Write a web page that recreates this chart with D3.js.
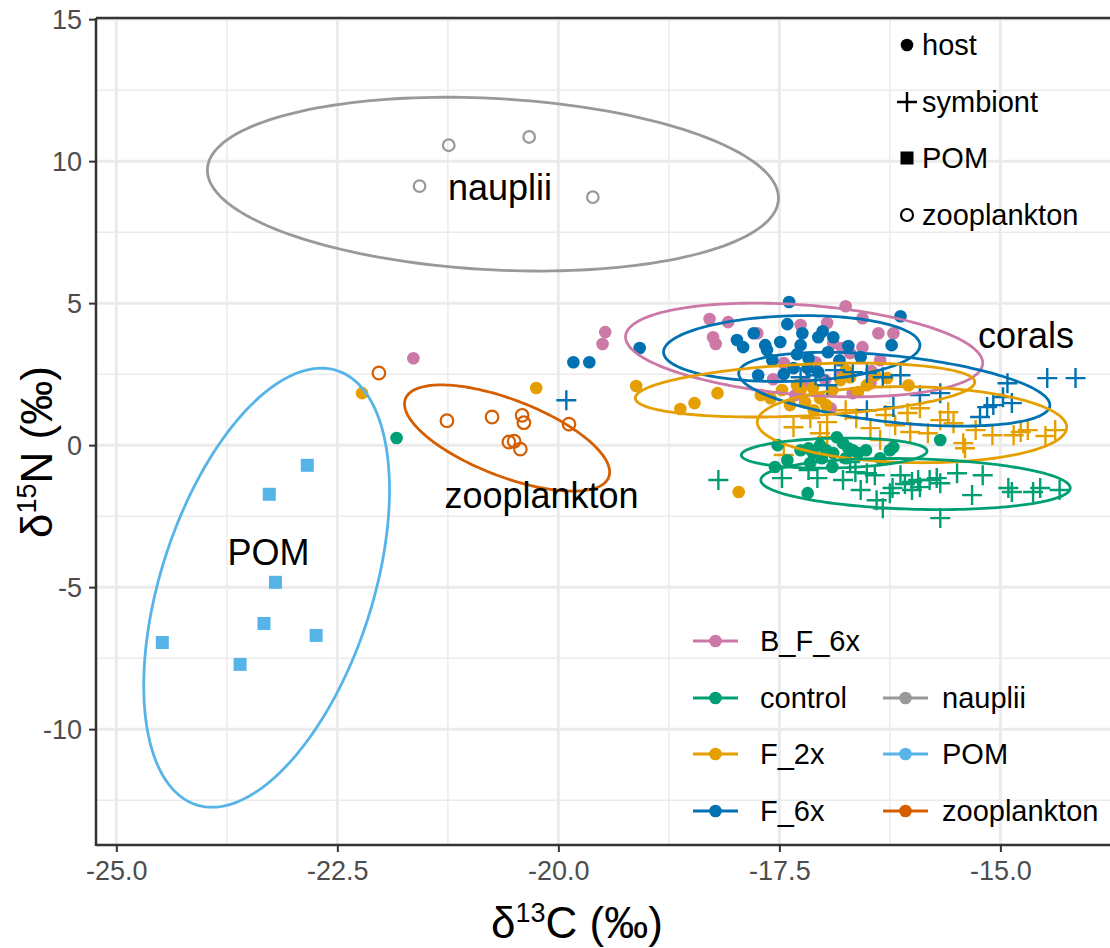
<!DOCTYPE html>
<html>
<head>
<meta charset="utf-8">
<script src="https://cdn.jsdelivr.net/npm/d3@7/dist/d3.min.js"></script>
<style>
  body { margin: 0; background: #fff; }
</style>
</head>
<body>
<div id="chart"></div>
<script>
// ---- data (delta13C, delta15N) ----
const groupNames  = ["B_F_6x", "control", "F_2x", "F_6x", "nauplii", "POM", "zooplankton"];
const groupColors = ["#CC79A7", "#009E73", "#E69F00", "#0072B2", "#999999", "#56B4E9", "#D55E00"];

const bf6xHost = [[-21.64,3.06],[-19.50,3.56],[-19.47,3.98],[-18.29,4.44],[-18.08,4.33],[-18.25,3.80],[-18.22,3.56],
  [-17.75,3.94],[-17.26,4.23],[-16.96,4.30],[-16.75,4.89],[-16.56,4.47],[-16.38,3.94],[-16.21,3.94],[-16.89,3.59],
  [-16.79,3.42],[-16.70,3.24],[-16.56,3.45],[-16.36,2.99],[-16.46,2.61],[-17.09,2.92],[-17.45,2.89],[-17.57,2.32],
  [-17.21,2.18],[-16.92,1.30],[-16.67,1.83],[-16.81,2.46],[-16.47,2.18],[-16.98,2.29],[-17.32,1.76]];

const controlHost = [[-21.83,0.25],[-17.52,0.00],[-17.41,-0.53],[-17.55,-0.77],[-17.26,-0.18],[-17.17,-0.11],[-17.12,-0.28],
  [-17.15,-0.63],[-17.04,0.00],[-16.97,-0.18],[-16.89,-0.28],[-16.85,0.28],[-16.90,-0.77],[-17.18,-1.69],[-16.78,0.07],
  [-16.72,-0.11],[-16.67,-0.18],[-16.61,-0.28],[-16.52,-0.18],[-16.75,-0.46],[-16.36,-0.46],[-16.25,-0.18],[-16.21,-0.07],
  [-15.68,0.18],[-17.02,-0.46]];

const f2xHost = [[-22.22,1.83],[-20.25,2.01],[-19.12,2.08],[-18.62,1.27],[-18.46,1.48],[-18.20,1.83],[-17.96,-1.65],
  [-17.60,1.65],[-17.47,1.94],[-17.38,1.41],[-17.26,1.94],[-17.21,1.51],[-17.12,2.01],[-17.04,1.65],[-16.90,1.94],
  [-16.81,2.29],[-16.75,2.64],[-16.70,2.39],[-16.61,1.87],[-16.51,2.11],[-16.42,2.46],[-16.28,2.36],[-16.04,2.11],
  [-16.97,1.41],[-17.11,1.23],[-17.30,2.11],[-17.71,1.76]];

const f6xHost = [[-19.83,2.92],[-19.65,2.92],[-19.08,3.42],[-17.98,3.70],[-17.91,3.45],[-17.79,3.94],[-17.66,3.52],
  [-17.64,3.35],[-17.49,3.63],[-17.41,4.26],[-17.39,5.04],[-17.26,3.52],[-17.24,3.94],[-17.17,3.06],[-17.06,3.80],
  [-17.01,4.01],[-16.89,3.80],[-16.95,3.27],[-16.72,3.49],[-16.58,3.10],[-16.23,3.52],[-16.13,4.54],[-17.74,2.46],
  [-17.45,2.50],[-17.34,2.71],[-17.18,2.71],[-17.06,2.57],[-16.82,2.99],[-17.58,2.99],[-17.30,3.20]];

const controlSym = [[-18.19,-1.23],[-17.47,-1.16],[-17.07,-1.16],[-16.78,-1.23],[-16.64,-0.95],[-16.51,-0.99],[-16.42,-1.06],
  [-16.40,-1.94],[-16.33,-2.22],[-16.25,-1.69],[-16.22,-1.51],[-16.13,-1.06],[-16.08,-1.37],[-16.00,-1.30],[-16.00,-1.58],
  [-15.93,-1.23],[-15.91,-1.48],[-15.80,-1.23],[-15.72,-1.16],[-15.68,-1.34],[-15.68,-2.57],[-15.49,-0.99],[-15.32,-1.76],
  [-15.20,-1.06],[-14.91,-1.51],[-14.87,-1.65],[-14.63,-1.65],[-14.55,-1.51],[-14.33,-1.58],[-16.58,-1.58],[-16.70,-0.60],
  [-17.17,-0.88]];

const f2xSym = [[-17.45,-0.35],[-17.34,0.63],[-17.15,0.95],[-17.04,0.42],[-16.96,0.81],[-16.96,0.28],[-16.75,1.23],
  [-16.63,0.95],[-16.47,0.60],[-16.30,1.06],[-16.05,1.13],[-16.02,0.46],[-15.91,1.30],[-15.82,0.42],[-15.68,0.88],
  [-15.59,1.16],[-15.53,0.77],[-15.42,0.07],[-15.40,-0.11],[-15.28,0.53],[-15.09,0.35],[-14.85,0.35],[-14.77,0.46],
  [-14.69,0.53],[-14.49,0.32],[-14.38,0.53],[-16.36,0.18],[-16.19,0.70]];

const f6xSym = [[-19.91,1.58],[-17.26,2.39],[-17.09,2.46],[-16.96,2.11],[-16.87,2.64],[-16.67,2.57],[-16.51,2.54],
  [-16.33,2.39],[-16.13,2.46],[-16.51,1.23],[-16.21,1.34],[-15.91,1.76],[-15.68,1.83],[-15.23,0.99],[-15.15,1.34],
  [-15.08,1.41],[-14.97,1.69],[-14.92,2.18],[-14.87,1.48],[-14.47,2.36],[-14.15,2.36]];

const naupliiPts = [[-21.57,9.12],[-21.24,10.56],[-20.33,10.85],[-19.61,8.73]];

const pomPts = [[-22.84,-0.71],[-23.27,-1.73],[-23.20,-4.83],[-23.33,-6.28],[-22.74,-6.70],[-24.48,-6.95],[-23.60,-7.72]];

const zooPts = [[-22.03,2.54],[-21.26,0.86],[-20.75,0.99],[-20.41,1.05],[-20.39,0.79],[-19.88,0.74],[-20.56,0.11],
  [-20.50,0.14],[-20.43,-0.14]];

// ellipses: centre, right-most point, and half of vertical extent (data units)
const ellGroup = ["nauplii", "POM", "zooplankton", "B_F_6x", "F_6x", "F_6x", "F_2x", "F_2x", "control", "control"];
const ellCx    = [-20.74, -23.30, -20.58, -17.22, -17.36, -16.20, -17.21, -16.00, -16.88, -15.96];
const ellCy    = [  9.19,  -5.02,   0.25,   3.35,   3.40,   1.97,   1.94,   0.72,  -0.28,  -1.37];
const ellRx    = [-17.51, -21.91, -19.42, -15.20, -15.91, -14.44, -15.29, -14.25, -15.83, -14.21];
const ellRy    = [  8.70,  -1.58,  -0.95,   2.89,   3.52,   1.41,   2.22,   0.63,  -0.21,  -1.51];
const ellHalfH = [  3.06,   7.73,   1.87,   1.65,   1.16,   1.30,   0.95,   1.34,   0.53,   0.90];

const textLabels = ["nauplii", "corals", "zooplankton", "POM"];
const textX = [-20.66, -14.71, -20.19, -23.28];
const textY = [9.08, 3.87, -1.76, -3.77];

const xMajor = [-25, -22.5, -20, -17.5, -15];
const xMinor = [-23.75, -21.25, -18.75, -16.25];
const yMajor = [-10, -5, 0, 5, 10, 15];
const yMinor = [-12.5, -7.5, -2.5, 2.5, 7.5, 12.5];

const shapeNames = ["host", "symbiont", "POM", "zooplankton"];

// ---- drawing ----
const width = 1110, height = 948;
const color = d3.scaleOrdinal().domain(groupNames).range(groupColors);

const svg = d3.select("#chart").append("svg")
    .attr("width", width)
    .attr("height", height)
    .style("font-family", "'Liberation Sans', Arial, Helvetica, sans-serif");

const x = d3.scaleLinear().domain([-25.23, -13.76]).range([96, 1110]);
const y = d3.scaleLinear().domain([-14.08, 15.04]).range([845, 18]);

svg.append("clipPath").attr("id", "panel")
  .append("rect").attr("x", 96).attr("y", 18).attr("width", 1014).attr("height", 827);

const grid = svg.append("g").attr("clip-path", "url(#panel)");
grid.selectAll(".xmin").data(xMinor).enter().append("line")
    .attr("x1", d => x(d)).attr("x2", d => x(d)).attr("y1", 18).attr("y2", 845)
    .attr("stroke", "#ebebeb").attr("stroke-width", 1.5);
grid.selectAll(".ymin").data(yMinor).enter().append("line")
    .attr("y1", d => y(d)).attr("y2", d => y(d)).attr("x1", 96).attr("x2", 1110)
    .attr("stroke", "#ebebeb").attr("stroke-width", 1.5);
grid.selectAll(".xmaj").data(xMajor).enter().append("line")
    .attr("x1", d => x(d)).attr("x2", d => x(d)).attr("y1", 18).attr("y2", 845)
    .attr("stroke", "#ebebeb").attr("stroke-width", 3);
grid.selectAll(".ymaj").data(yMajor).enter().append("line")
    .attr("y1", d => y(d)).attr("y2", d => y(d)).attr("x1", 96).attr("x2", 1110)
    .attr("stroke", "#ebebeb").attr("stroke-width", 3);

const plot = svg.append("g").attr("clip-path", "url(#panel)");

function drawDots(data, fill) {
  plot.selectAll(null).data(data).enter().append("circle")
      .attr("cx", d => x(d[0])).attr("cy", d => y(d[1])).attr("r", 6.3)
      .attr("fill", fill);
}
function drawPlus(data, stroke) {
  const s = 10;
  plot.selectAll(null).data(data).enter().append("path")
      .attr("d", d => `M${x(d[0]) - s},${y(d[1])}H${x(d[0]) + s}M${x(d[0])},${y(d[1]) - s}V${y(d[1]) + s}`)
      .attr("stroke", stroke).attr("stroke-width", 2.4).attr("fill", "none");
}
function drawOpen(data, stroke, r) {
  plot.selectAll(null).data(data).enter().append("circle")
      .attr("cx", d => x(d[0])).attr("cy", d => y(d[1])).attr("r", r)
      .attr("fill", "none").attr("stroke", stroke).attr("stroke-width", 2.2);
}
function drawSquares(data, fill) {
  const s = 13;
  plot.selectAll(null).data(data).enter().append("rect")
      .attr("x", d => x(d[0]) - s / 2).attr("y", d => y(d[1]) - s / 2)
      .attr("width", s).attr("height", s).attr("fill", fill);
}

drawDots(bf6xHost, color("B_F_6x"));
drawPlus(controlSym, color("control"));
drawPlus(f2xSym, color("F_2x"));
drawDots(controlHost, color("control"));
drawDots(f2xHost, color("F_2x"));
drawPlus(f6xSym, color("F_6x"));
drawDots(f6xHost, color("F_6x"));
drawOpen(naupliiPts, color("nauplii"), 5.8);
drawSquares(pomPts, color("POM"));
drawOpen(zooPts, color("zooplankton"), 6.3);

// ellipses
const ellLine = d3.line().x(p => x(p[0])).y(p => y(p[1])).curve(d3.curveLinearClosed);
ellGroup.forEach((g, i) => {
  const hx = ellRx[i] - ellCx[i];
  const hy = ellRy[i] - ellCy[i];
  const k = Math.sqrt(Math.max(ellHalfH[i] * ellHalfH[i] - hy * hy, 0));
  const pts = d3.range(0, 2 * Math.PI, Math.PI / 90).map(t =>
    [ellCx[i] + hx * Math.cos(t), ellCy[i] + hy * Math.cos(t) + k * Math.sin(t)]);
  plot.append("path").datum(pts)
      .attr("d", ellLine)
      .attr("fill", "none")
      .attr("stroke", color(g))
      .attr("stroke-width", 2.8);
});

// group labels
plot.selectAll(".lab").data(textLabels).enter().append("text")
    .attr("x", (d, i) => x(textX[i])).attr("y", (d, i) => y(textY[i]))
    .attr("text-anchor", "middle").attr("dominant-baseline", "central")
    .style("font-size", "36px").style("fill", "#000")
    .text(d => d);

// axes
const xAxis = svg.append("g").attr("transform", "translate(0,845)")
    .call(d3.axisBottom(x).tickValues(xMajor).tickSize(7).tickPadding(9).tickFormat(d => d.toFixed(1)));
const yAxis = svg.append("g").attr("transform", "translate(96,0)")
    .call(d3.axisLeft(y).tickValues(yMajor).tickSize(7).tickPadding(7).tickFormat(d => String(d)));
[xAxis, yAxis].forEach(a => {
  a.select(".domain").remove();
  a.selectAll(".tick line").attr("stroke", "#333").attr("stroke-width", 2);
  a.selectAll(".tick text").style("font-size", "27px").style("fill", "#4d4d4d")
      .style("font-family", "'Liberation Sans', Arial, sans-serif");
});
yAxis.selectAll(".tick text").attr("dy", "0.35em");

svg.append("line").attr("x1", 96).attr("x2", 1110).attr("y1", 845).attr("y2", 845)
    .attr("stroke", "#333").attr("stroke-width", 2.5);
svg.append("line").attr("x1", 96).attr("x2", 96).attr("y1", 18).attr("y2", 846)
    .attr("stroke", "#333").attr("stroke-width", 2.5);
svg.append("line").attr("x1", 96).attr("x2", 1110).attr("y1", 18).attr("y2", 18)
    .attr("stroke", "#333").attr("stroke-width", 2.5);

// axis titles
const xt = svg.append("text").attr("x", 577).attr("y", 938).attr("text-anchor", "middle")
    .style("font-size", "44px").style("fill", "#000");
xt.append("tspan").text("δ");
xt.append("tspan").attr("dy", -16).style("font-size", "27px").text("13");
xt.append("tspan").attr("dy", 16).text("C (‰)");

const yt = svg.append("text").attr("transform", "translate(52,452) rotate(-90)").attr("text-anchor", "middle")
    .style("font-size", "44px").style("fill", "#000");
yt.append("tspan").text("δ");
yt.append("tspan").attr("dy", -16).style("font-size", "27px").text("15");
yt.append("tspan").attr("dy", 16).text("N (‰)");

// shape legend
const shapeLeg = svg.append("g");
const shapeRows = [45, 102, 158, 215];
shapeNames.forEach((s, i) => {
  const cy = shapeRows[i], cx = 907;
  if (s === "host") shapeLeg.append("circle").attr("cx", cx).attr("cy", cy).attr("r", 6.3).attr("fill", "#000");
  if (s === "symbiont") shapeLeg.append("path").attr("d", `M${cx - 10},${cy}H${cx + 10}M${cx},${cy - 10}V${cy + 10}`)
      .attr("stroke", "#000").attr("stroke-width", 2.4);
  if (s === "POM") shapeLeg.append("rect").attr("x", cx - 6.5).attr("y", cy - 6.5).attr("width", 13).attr("height", 13).attr("fill", "#000");
  if (s === "zooplankton") shapeLeg.append("circle").attr("cx", cx).attr("cy", cy).attr("r", 6).attr("fill", "none")
      .attr("stroke", "#000").attr("stroke-width", 2.2);
  shapeLeg.append("text").attr("x", 922).attr("y", cy).attr("dominant-baseline", "central")
      .style("font-size", "29px").text(s);
});

// colour legend
const colLeg = svg.append("g");
const legPos = [[0, 641], [0, 698], [0, 754], [0, 811], [1, 698], [1, 754], [1, 811]];
const legColX = [693, 883];
const legTextX = [760, 942];
groupNames.forEach((g, i) => {
  const [c, cy] = legPos[i];
  const x0 = legColX[c];
  colLeg.append("line").attr("x1", x0).attr("x2", x0 + 45).attr("y1", cy).attr("y2", cy)
      .attr("stroke", color(g)).attr("stroke-width", 3);
  colLeg.append("circle").attr("cx", x0 + 22.5).attr("cy", cy).attr("r", 6.3).attr("fill", color(g));
  colLeg.append("text").attr("x", legTextX[c]).attr("y", cy).attr("dominant-baseline", "central")
      .style("font-size", "29px").text(g);
});
</script>
</body>
</html>
